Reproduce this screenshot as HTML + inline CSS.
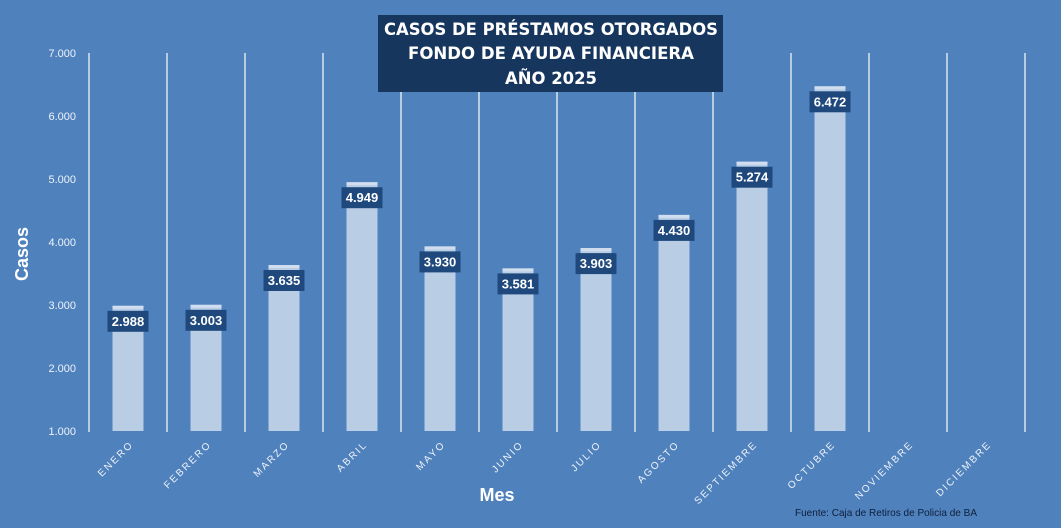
<!DOCTYPE html>
<html><head><meta charset="utf-8"><style>
html,body{margin:0;padding:0;background:#4f81bd;}
svg{display:block;font-family:"Liberation Sans",sans-serif;}
</style></head><body>
<svg width="1061" height="528" viewBox="0 0 1061 528" xmlns="http://www.w3.org/2000/svg">
<rect width="1061" height="528" fill="#4f81bd"/>
<g stroke="#ffffff" stroke-width="1.2">
<line x1="89" y1="53" x2="89" y2="432"/><line x1="167" y1="53" x2="167" y2="432"/><line x1="245" y1="53" x2="245" y2="432"/><line x1="323" y1="53" x2="323" y2="432"/><line x1="401" y1="53" x2="401" y2="432"/><line x1="479" y1="53" x2="479" y2="432"/><line x1="557" y1="53" x2="557" y2="432"/><line x1="635" y1="53" x2="635" y2="432"/><line x1="713" y1="53" x2="713" y2="432"/><line x1="791" y1="53" x2="791" y2="432"/><line x1="869" y1="53" x2="869" y2="432"/><line x1="947" y1="53" x2="947" y2="432"/><line x1="1025" y1="53" x2="1025" y2="432"/>
</g>
<g fill="#eef3fa" font-size="11" text-anchor="end">
<text x="76" y="57">7.000</text><text x="76" y="120">6.000</text><text x="76" y="183">5.000</text><text x="76" y="246">4.000</text><text x="76" y="309">3.000</text><text x="76" y="372">2.000</text><text x="76" y="435">1.000</text>
</g>
<g fill="#b9cde5">
<rect x="112.5" y="305.8" width="31" height="125.2"/>
<rect x="190.5" y="304.8" width="31" height="126.2"/>
<rect x="268.5" y="265" width="31" height="166"/>
<rect x="346.5" y="182.2" width="31" height="248.8"/>
<rect x="424.5" y="246.4" width="31" height="184.6"/>
<rect x="502.5" y="268.4" width="31" height="162.6"/>
<rect x="580.5" y="248.1" width="31" height="182.9"/>
<rect x="658.5" y="214.9" width="31" height="216.1"/>
<rect x="736.5" y="161.7" width="31" height="269.3"/>
<rect x="814.5" y="86.3" width="31" height="344.7"/>
</g>
<g fill="#d0def0">
<rect x="112.5" y="305.8" width="31" height="3"/>
<rect x="190.5" y="304.8" width="31" height="3"/>
<rect x="268.5" y="265" width="31" height="3"/>
<rect x="346.5" y="182.2" width="31" height="3"/>
<rect x="424.5" y="246.4" width="31" height="3"/>
<rect x="502.5" y="268.4" width="31" height="3"/>
<rect x="580.5" y="248.1" width="31" height="3"/>
<rect x="658.5" y="214.9" width="31" height="3"/>
<rect x="736.5" y="161.7" width="31" height="3"/>
<rect x="814.5" y="86.3" width="31" height="3"/>
</g>
<g fill="#1f497d">
<rect x="107.5" y="310.8" width="41" height="21"/>
<rect x="185.5" y="309.8" width="41" height="21"/>
<rect x="263.5" y="270" width="41" height="21"/>
<rect x="341.5" y="187.2" width="41" height="21"/>
<rect x="419.5" y="251.4" width="41" height="21"/>
<rect x="497.5" y="273.4" width="41" height="21"/>
<rect x="575.5" y="253.1" width="41" height="21"/>
<rect x="653.5" y="219.9" width="41" height="21"/>
<rect x="731.5" y="166.7" width="41" height="21"/>
<rect x="809.5" y="91.3" width="41" height="21"/>
</g>
<g fill="#fff" font-weight="bold" font-size="13" text-anchor="middle">
<text x="128" y="325.8">2.988</text>
<text x="206" y="324.8">3.003</text>
<text x="284" y="285">3.635</text>
<text x="362" y="202.2">4.949</text>
<text x="440" y="266.4">3.930</text>
<text x="518" y="288.4">3.581</text>
<text x="596" y="268.1">3.903</text>
<text x="674" y="234.9">4.430</text>
<text x="752" y="181.7">5.274</text>
<text x="830" y="106.3">6.472</text>
</g>
<g fill="#eef3fa" font-size="10" letter-spacing="2" text-anchor="end">
<text transform="translate(134,445) rotate(-45)">ENERO</text>
<text transform="translate(212,445) rotate(-45)">FEBRERO</text>
<text transform="translate(290,445) rotate(-45)">MARZO</text>
<text transform="translate(368,445) rotate(-45)">ABRIL</text>
<text transform="translate(446,445) rotate(-45)">MAYO</text>
<text transform="translate(524,445) rotate(-45)">JUNIO</text>
<text transform="translate(602,445) rotate(-45)">JULIO</text>
<text transform="translate(680,445) rotate(-45)">AGOSTO</text>
<text transform="translate(758,445) rotate(-45)">SEPTIEMBRE</text>
<text transform="translate(836,445) rotate(-45)">OCTUBRE</text>
<text transform="translate(914,445) rotate(-45)">NOVIEMBRE</text>
<text transform="translate(992,445) rotate(-45)">DICIEMBRE</text>
</g>
<rect x="378" y="15" width="345" height="77" fill="#17365d"/>
<g fill="#fff" font-weight="bold" font-size="17" text-anchor="middle" font-family="'DejaVu Sans','Liberation Sans',sans-serif">
<text x="551" y="35" textLength="334" lengthAdjust="spacingAndGlyphs">CASOS DE PRÉSTAMOS OTORGADOS</text>
<text x="551" y="59" textLength="286" lengthAdjust="spacingAndGlyphs">FONDO DE AYUDA FINANCIERA</text>
<text x="551" y="84" textLength="92" lengthAdjust="spacingAndGlyphs">AÑO 2025</text>
</g>
<text transform="translate(28,254) rotate(-90)" text-anchor="middle" fill="#fff" font-weight="bold" font-size="18">Casos</text>
<text x="497" y="501" text-anchor="middle" fill="#fff" font-weight="bold" font-size="18">Mes</text>
<text x="795" y="516" fill="#0f1f3a" font-size="10.5" textLength="182" lengthAdjust="spacingAndGlyphs">Fuente: Caja de Retiros de Policia de BA</text>
</svg>
</body></html>
